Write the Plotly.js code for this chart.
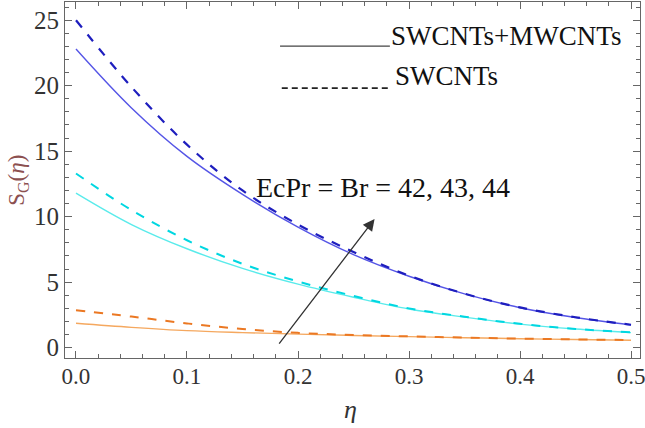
<!DOCTYPE html>
<html>
<head>
<meta charset="utf-8">
<script src="https://cdn.plot.ly/plotly-3.0.1.min.js"></script>
<style>html,body{margin:0;padding:0;background:#fff;}#chart{width:645px;height:428px;}</style>
</head>
<body>
<div id="chart"></div>
<script>
// eta grid
const eta = [0, 0.05, 0.1, 0.15, 0.2, 0.25, 0.3, 0.35, 0.4, 0.45, 0.5];
// SWCNTs+MWCNTs (solid)
const hybBr44 = [22.8, 18.3, 14.6, 11.7, 9.2, 7.1, 5.45, 4.1, 3.05, 2.3, 1.73];
const hybBr43 = [11.8, 9.4, 7.55, 6.05, 4.85, 3.85, 2.95, 2.33, 1.8, 1.42, 1.15];
const hybBr42 = [1.86, 1.55, 1.3, 1.15, 1.03, 0.93, 0.84, 0.76, 0.68, 0.62, 0.57];
// SWCNTs (dashed)
const swBr44 = [25.0, 19.9, 15.5, 12.0, 9.4, 7.3, 5.5, 4.12, 3.07, 2.32, 1.75];
const swBr43 = [13.3, 10.5, 8.2, 6.4, 5.05, 3.95, 3.0, 2.36, 1.82, 1.43, 1.17];
const swBr42 = [2.85, 2.37, 1.85, 1.42, 1.13, 0.97, 0.86, 0.77, 0.69, 0.63, 0.58];

const legendLabels = ["SWCNTs+MWCNTs", "SWCNTs"];
const annoText = "EcPr = Br = 42, 43, 44";
const xTickVals = [0, 0.1, 0.2, 0.3, 0.4, 0.5];
const yTickVals = [0, 5, 10, 15, 20, 25];

function tr(y, color, dash, width) {
  return {x: eta, y: y, mode: 'lines', line: {color: color, dash: dash, width: width, shape: 'spline', smoothing: 1}, showlegend: false, hoverinfo: 'skip'};
}
const data = [
  tr(hybBr42, 'rgb(245,168,95)', 'solid', 1.4),
  tr(swBr42, 'rgb(235,120,35)', 'dash', 2),
  tr(hybBr43, 'rgb(90,235,235)', 'solid', 1.4),
  tr(swBr43, 'rgb(0,215,225)', 'dash', 2),
  tr(hybBr44, 'rgb(85,85,230)', 'solid', 1.4),
  tr(swBr44, 'rgb(30,30,190)', 'dash', 2.2)
];

const serif = "'Liberation Serif', 'Times New Roman', serif";
const axisCommon = {
  showline: true, mirror: 'ticks', linecolor: '#666', linewidth: 1,
  ticks: 'inside', ticklen: 7, tickcolor: '#666', tickwidth: 1,
  showgrid: false, zeroline: false, ticklabeloverflow: 'allow',
  tickfont: {family: serif, size: 25, color: '#333'}
};
const layout = {
  width: 645, height: 428,
  margin: {l: 65, r: 5, t: 2, b: 70},
  paper_bgcolor: '#fff', plot_bgcolor: '#fff',
  font: {family: serif},
  xaxis: Object.assign({}, axisCommon, {
    range: [-0.0099, 0.5081], tickvals: xTickVals, tickformat: '.1f', ticklabelstandoff: -3,
    tickfont: {family: serif, size: 23, color: '#333'},
    minor: {dtick: 0.02, ticks: 'inside', ticklen: 4, tickcolor: '#666', showgrid: false}
  }),
  yaxis: Object.assign({}, axisCommon, {
    range: [-0.79, 26.39], tickvals: yTickVals,
    minor: {dtick: 1, ticks: 'inside', ticklen: 4, tickcolor: '#666', showgrid: false}
  }),
  shapes: [
    {type: 'line', xref: 'paper', yref: 'paper', x0: 0.374, x1: 0.565, y0: 0.876, y1: 0.876, line: {color: '#444', width: 1.3}},
    {type: 'line', xref: 'paper', yref: 'paper', x0: 0.377, x1: 0.567, y0: 0.758, y1: 0.758, line: {color: '#222', width: 1.6, dash: '6px,4px'}}
  ],
  annotations: [
    {xref: 'paper', yref: 'paper', x: 0.564, y: 0.904, xanchor: 'left', yanchor: 'middle', text: legendLabels[0], showarrow: false, font: {family: serif, size: 27, color: '#111'}},
    {xref: 'paper', yref: 'paper', x: 0.571, y: 0.792, xanchor: 'left', yanchor: 'middle', text: legendLabels[1], showarrow: false, font: {family: serif, size: 27, color: '#111'}},
    {xref: 'paper', yref: 'paper', x: 0.553, y: 0.480, xanchor: 'center', yanchor: 'middle', text: annoText, showarrow: false, font: {family: serif, size: 28, color: '#111'}},
    {xref: 'x', yref: 'y', axref: 'x', ayref: 'y', x: 0.269, y: 9.82, ax: 0.182, ay: 0.2, text: '', showarrow: true, arrowhead: 2, arrowsize: 1.8, arrowwidth: 1.3, arrowcolor: '#333'},
    {xref: 'paper', yref: 'paper', x: -0.082, y: 0.5, xanchor: 'center', yanchor: 'middle', textangle: -90, text: 'S<sub>G</sub>(<i>η</i>)', showarrow: false, font: {family: serif, size: 23, color: 'rgb(140,80,80)'}},
    {xref: 'paper', yref: 'paper', x: 0.496, y: -0.146, xanchor: 'center', yanchor: 'middle', text: '<i>η</i>', showarrow: false, font: {family: serif, size: 26, color: '#333'}}
  ]
};
Plotly.newPlot('chart', data, layout, {displayModeBar: false, staticPlot: true});
</script>
</body>
</html>
